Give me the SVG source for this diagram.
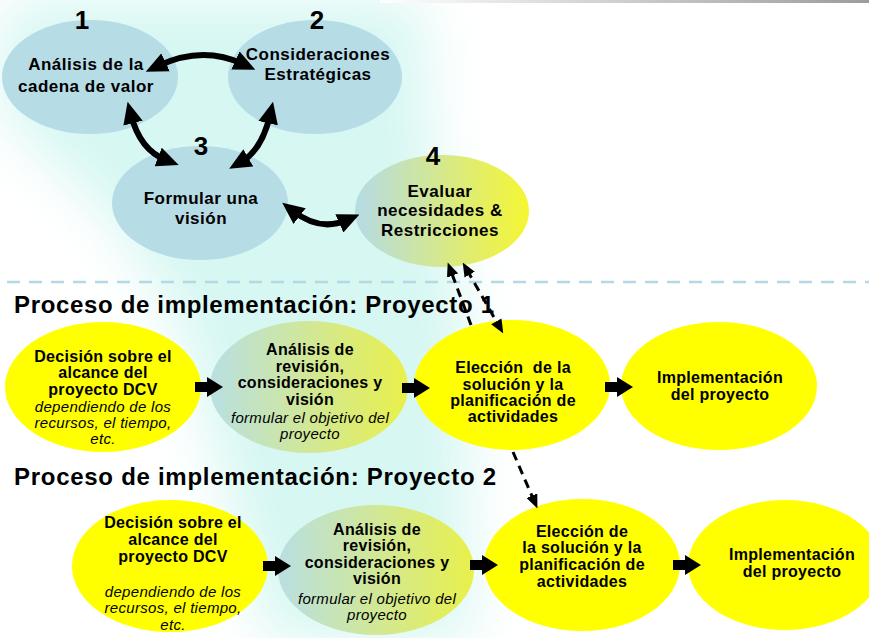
<svg xmlns="http://www.w3.org/2000/svg" width="869" height="638" viewBox="0 0 869 638">
<style>
text{font-family:"Liberation Sans",Arial,sans-serif;fill:#000;text-anchor:middle}
.num{font-size:26px;font-weight:bold}
.tl{font-size:17px;font-weight:bold;letter-spacing:0.5px}
.b{font-size:16px;font-weight:bold;letter-spacing:0.3px}
.i{font-size:15px;font-style:italic;letter-spacing:0.3px}
.title{font-size:24px;font-weight:bold;text-anchor:start}
.blue{fill:#b6dce6}
.yel{fill:#ffff00}
.curve{fill:none;stroke:#000;stroke-width:6;marker-start:url(#hb);marker-end:url(#hb)}
.dash{fill:none;stroke:#000;stroke-width:3;stroke-dasharray:9 6}
</style>
<defs>
<filter id="blur" x="-50%" y="-50%" width="200%" height="200%"><feGaussianBlur stdDeviation="28"/></filter>
<linearGradient id="g4" x1="0" y1="0" x2="1" y2="0"><stop offset="0" stop-color="#b5dbe6"/><stop offset="1" stop-color="#f6f632"/></linearGradient>
<linearGradient id="gb" x1="0" y1="0" x2="1" y2="0"><stop offset="0" stop-color="#b9dfe3"/><stop offset="1" stop-color="#e9f04a"/></linearGradient>
<linearGradient id="gtop" x1="0" y1="0" x2="1" y2="0"><stop offset="0" stop-color="#ffffff"/><stop offset="1" stop-color="#9c9c9c"/></linearGradient>
<marker id="hb" markerUnits="userSpaceOnUse" markerWidth="22" markerHeight="20" viewBox="0 0 21 19" refX="8" refY="9.5" orient="auto-start-reverse"><path d="M0,0 L21,9.5 L0,19 Z" fill="#000"/></marker>
<marker id="hs" markerUnits="userSpaceOnUse" markerWidth="14" markerHeight="12" viewBox="0 0 13 11" refX="5" refY="5.5" orient="auto-start-reverse"><path d="M0,0 L13,5.5 L0,11 Z" fill="#000"/></marker>
<path id="blk" d="M0,-5 H12 V-10 L28,0 L12,10 V5 H0 Z" fill="#000"/>
</defs>
<rect width="869" height="638" fill="#fff"/>
<path d="M25,0 L420,0 L435,200 L462,300 L470,640 L270,640 L180,320 L110,215 L20,130 L0,100 L0,25 Z" fill="#d6f7f2" filter="url(#blur)"/>
<rect x="380" y="0" width="489" height="3" fill="url(#gtop)"/>
<line x1="7" y1="282" x2="869" y2="282" stroke="#b4d8e4" stroke-width="2.5" stroke-dasharray="13 9"/>

<g id="node1">
<ellipse class="blue" cx="90" cy="77" rx="88" ry="57"/>
<text class="num" x="82" y="29">1</text>
<text class="tl" x="86" y="70">Análisis de la</text>
<text class="tl" x="86" y="92">cadena de valor</text>
</g>
<g id="node2">
<ellipse class="blue" cx="315" cy="77" rx="87" ry="57"/>
<text class="num" x="317" y="29">2</text>
<text class="tl" x="318" y="60">Consideraciones</text>
<text class="tl" x="318" y="80">Estratégicas</text>
</g>
<g id="node3">
<ellipse class="blue" cx="200" cy="203" rx="88" ry="57"/>
<text class="num" x="201" y="155">3</text>
<text class="tl" x="201" y="204">Formular una</text>
<text class="tl" x="201" y="224">visión</text>
</g>
<g id="node4">
<ellipse cx="442" cy="211" rx="87" ry="56" fill="url(#g4)"/>
<text class="num" x="433" y="165">4</text>
<text class="tl" x="440" y="197">Evaluar</text>
<text class="tl" x="440" y="216">necesidades &amp;</text>
<text class="tl" x="440" y="236">Restricciones</text>
</g>

<text class="title" x="14" y="313" textLength="480">Proceso de implementación: Proyecto 1</text>
<text class="title" x="14" y="485" textLength="482">Proceso de implementación: Proyecto 2</text>

<g id="p1a">
<ellipse class="yel" cx="103" cy="387" rx="98" ry="65"/>
<text class="b" x="103" y="362">Decisión sobre el</text>
<text class="b" x="103" y="378">alcance del</text>
<text class="b" x="103" y="395">proyecto DCV</text>
<text class="i" x="103" y="412">dependiendo de los</text>
<text class="i" x="103" y="428">recursos, el tiempo,</text>
<text class="i" x="103" y="444">etc.</text>
</g>
<g id="p1b">
<ellipse cx="309" cy="387" rx="99" ry="66" fill="url(#gb)"/>
<text class="b" x="310" y="355">Análisis de</text>
<text class="b" x="310" y="372">revisión,</text>
<text class="b" x="310" y="388">consideraciones y</text>
<text class="b" x="310" y="405">visión</text>
<text class="i" x="310" y="423">formular el objetivo del</text>
<text class="i" x="310" y="439">proyecto</text>
</g>
<g id="p1c">
<ellipse class="yel" cx="512" cy="385" rx="98" ry="65"/>
<text class="b" x="513" y="373" style="white-space:pre">Elección  de la</text>
<text class="b" x="513" y="390">solución y la</text>
<text class="b" x="513" y="406">planificación de</text>
<text class="b" x="513" y="422">actividades</text>
</g>
<g id="p1d">
<ellipse class="yel" cx="719" cy="386" rx="98" ry="64"/>
<text class="b" x="720" y="383">Implementación</text>
<text class="b" x="720" y="400">del proyecto</text>
</g>

<g id="p2a">
<ellipse class="yel" cx="170" cy="566" rx="98" ry="66"/>
<text class="b" x="173" y="528">Decisión sobre el</text>
<text class="b" x="173" y="545">alcance del</text>
<text class="b" x="173" y="562">proyecto DCV</text>
<text class="i" x="173" y="597">dependiendo de los</text>
<text class="i" x="173" y="613">recursos, el tiempo,</text>
<text class="i" x="173" y="630">etc.</text>
</g>
<g id="p2b">
<ellipse cx="376" cy="570" rx="98" ry="65" fill="url(#gb)"/>
<text class="b" x="377" y="535">Análisis de</text>
<text class="b" x="377" y="551">revisión,</text>
<text class="b" x="377" y="568">consideraciones y</text>
<text class="b" x="377" y="584">visión</text>
<text class="i" x="377" y="604">formular el objetivo del</text>
<text class="i" x="377" y="620">proyecto</text>
</g>
<g id="p2c">
<ellipse class="yel" cx="582" cy="565" rx="98" ry="66"/>
<text class="b" x="582" y="537">Elección de</text>
<text class="b" x="582" y="553">la solución y la</text>
<text class="b" x="582" y="570">planificación de</text>
<text class="b" x="582" y="587">actividades</text>
</g>
<g id="p2d">
<ellipse class="yel" cx="785" cy="565" rx="97" ry="65"/>
<text class="b" x="792" y="560">Implementación</text>
<text class="b" x="792" y="577">del proyecto</text>
</g>

<g id="connectors">
<path class="curve" d="M158,66 Q202,45 243,64"/>
<path class="curve" d="M131,115 Q140,150 166,160"/>
<path class="curve" d="M270,115 Q262,150 241,162"/>
<path class="curve" d="M293,211 Q320,232 347,220"/>
<path class="dash" d="M471,325 L450.7,270.5" marker-end="url(#hs)"/>
<path class="dash" d="M467,270 L499,326" marker-start="url(#hs)" marker-end="url(#hs)"/>
<path class="dash" d="M513,452 L534,500.6" marker-end="url(#hs)"/>
<use href="#blk" x="195" y="387"/>
<use href="#blk" x="402" y="388"/>
<use href="#blk" x="605" y="387"/>
<use href="#blk" x="263" y="566"/>
<use href="#blk" x="470" y="565"/>
<use href="#blk" x="673" y="565"/>
</g>
</svg>
